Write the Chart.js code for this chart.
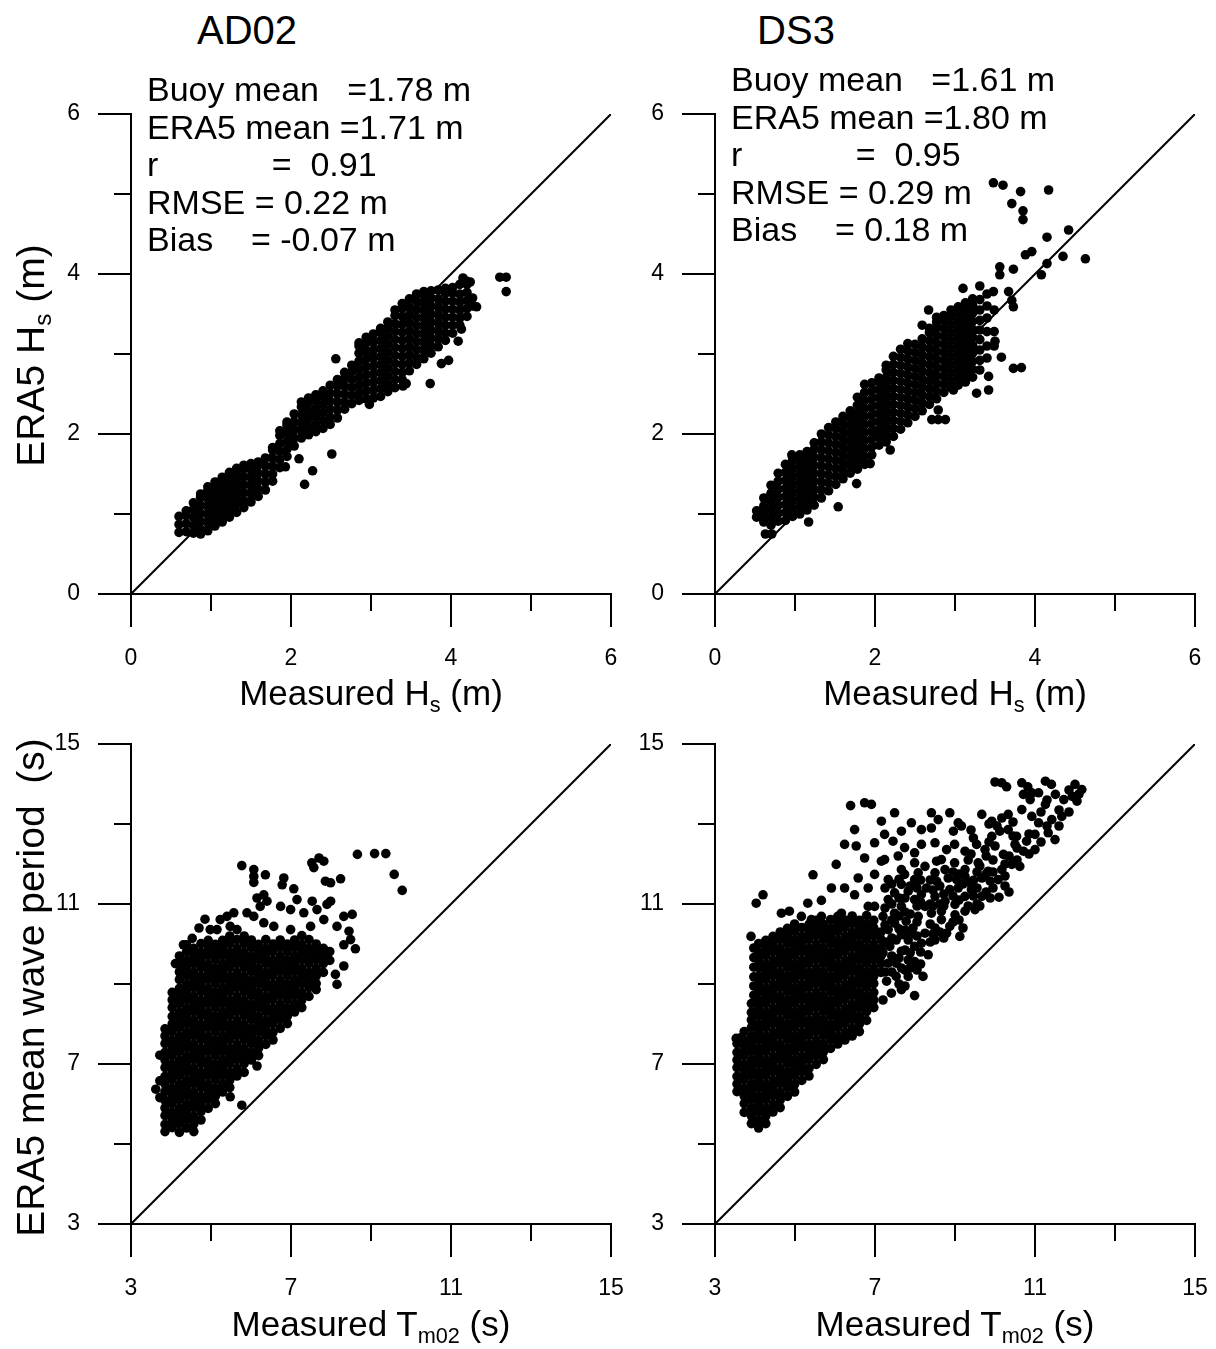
<!DOCTYPE html>
<html lang="en">
  <head>
    <meta charset="UTF-8" />
    <title>ERA5 vs buoy: AD02 / DS3</title>
    <script src="https://cdn.jsdelivr.net/npm/chart.js"></script>
    <style>
      body {
        margin: 0;
        width: 1216px;
        height: 1349px;
        position: relative;
        overflow: hidden;
        background: #fff;
        color: #000;
        font-family: "Liberation Sans", Arial, sans-serif;
      }
      canvas { position: absolute; }
      .txt { position: absolute; white-space: pre; line-height: 1; }
      .title { font-size: 40px; width: 200px; text-align: center; }
      .stats { font-size: 34px; line-height: 37.5px; }
      .xlab { font-size: 35px; width: 480px; text-align: center; }
      .ylab { font-size: 39px; width: 560px; height: 39px; text-align: center; transform: rotate(-90deg); }
      .sub { font-size: 0.62em; position: relative; top: 0.3em; }
    </style>
  </head>
  <body>
    <canvas id="ad02HsChart" width="640" height="600" style="left:0;top:90px"></canvas>
    <canvas id="ds3HsChart" width="616" height="600" style="left:600px;top:90px"></canvas>
    <canvas id="ad02TmChart" width="640" height="629" style="left:0;top:720px"></canvas>
    <canvas id="ds3TmChart" width="616" height="629" style="left:600px;top:720px"></canvas>

    <div class="txt title" style="left:147px;top:10px">AD02</div>
    <div class="txt title" style="left:696px;top:10px">DS3</div>

    <div class="txt stats" style="left:147px;top:71px">Buoy mean   =1.78 m<br>ERA5 mean =1.71 m<br>r            =  0.91<br>RMSE = 0.22 m<br>Bias    = -0.07 m</div>
    <div class="txt stats" style="left:731px;top:61px">Buoy mean   =1.61 m<br>ERA5 mean =1.80 m<br>r            =  0.95<br>RMSE = 0.29 m<br>Bias    = 0.18 m</div>

    <div class="txt xlab" style="left:131px;top:675px">Measured H<span class="sub">s</span> (m)</div>
    <div class="txt xlab" style="left:715px;top:675px">Measured H<span class="sub">s</span> (m)</div>
    <div class="txt xlab" style="left:131px;top:1306px">Measured T<span class="sub">m02</span> (s)</div>
    <div class="txt xlab" style="left:715px;top:1306px">Measured T<span class="sub">m02</span> (s)</div>

    <div class="txt ylab" style="left:-250px;top:336px">ERA5 H<span class="sub">s</span> (m)</div>
    <div class="txt ylab" style="left:-250px;top:968px">ERA5 mean wave period  (s)</div>

    <script>
      // axis ticks (minor ticks are unlabelled)
      const hsTicks = [0, 1, 2, 3, 4, 5, 6];
      const hsMajor = [0, 2, 4, 6];
      const tmTicks = [3, 5, 7, 9, 11, 13, 15];
      const tmMajor = [3, 7, 11, 15];

      // readings grouped by measured value: [measured, [ERA5 values...]]
      const ad02Hs = [
        [0.60, [0.77, 0.87, 0.97]],
        [0.69, [0.78, 0.88, 0.98, 1.04]],
        [0.78, [0.76, 0.86, 0.96, 1.06, 1.14]],
        [0.87, [0.75, 0.81, 0.91, 1.01, 1.11, 1.21, 1.25]],
        [0.96, [0.79, 0.89, 0.99, 1.09, 1.19, 1.29, 1.34]],
        [1.05, [0.85, 0.94, 1.04, 1.14, 1.24, 1.34, 1.40]],
        [1.14, [0.90, 1.00, 1.10, 1.20, 1.30, 1.40, 1.46]],
        [1.23, [0.96, 1.06, 1.16, 1.26, 1.36, 1.46, 1.52]],
        [1.32, [1.02, 1.12, 1.22, 1.32, 1.42, 1.52, 1.57]],
        [1.41, [1.08, 1.17, 1.27, 1.37, 1.47, 1.57, 1.61]],
        [1.50, [1.15, 1.25, 1.35, 1.45, 1.55, 1.63]],
        [1.59, [1.22, 1.31, 1.41, 1.51, 1.61, 1.65]],
        [1.68, [1.30, 1.40, 1.50, 1.60, 1.70]],
        [1.77, [1.41, 1.50, 1.60, 1.70, 1.80, 1.83]],
        [1.86, [1.58, 1.68, 1.78, 1.88, 1.98, 2.04]],
        [1.95, [1.72, 1.81, 1.91, 2.01, 2.11, 2.15]],
        [2.04, [1.85, 1.95, 2.05, 2.15, 2.25]],
        [2.13, [1.95, 2.04, 2.14, 2.24, 2.34, 2.40]],
        [2.22, [1.99, 2.09, 2.19, 2.29, 2.39, 2.45]],
        [2.31, [2.03, 2.12, 2.22, 2.32, 2.42, 2.49]],
        [2.40, [2.07, 2.17, 2.27, 2.37, 2.47, 2.54]],
        [2.49, [2.12, 2.21, 2.31, 2.41, 2.51, 2.61]],
        [2.58, [2.20, 2.30, 2.40, 2.50, 2.60, 2.68]],
        [2.67, [2.31, 2.40, 2.50, 2.60, 2.70, 2.77]],
        [2.76, [2.38, 2.48, 2.58, 2.68, 2.78, 2.86]],
        [2.85, [2.42, 2.51, 2.61, 2.71, 2.81, 2.91, 3.01, 3.10, 3.14]],
        [2.94, [2.44, 2.54, 2.64, 2.74, 2.84, 2.94, 3.04, 3.14, 3.21]],
        [3.03, [2.45, 2.55, 2.65, 2.75, 2.85, 2.95, 3.05, 3.15, 3.25]],
        [3.12, [2.47, 2.57, 2.67, 2.77, 2.87, 2.97, 3.07, 3.17, 3.27, 3.32]],
        [3.21, [2.53, 2.62, 2.72, 2.82, 2.92, 3.02, 3.12, 3.22, 3.32, 3.40]],
        [3.30, [2.58, 2.68, 2.78, 2.88, 2.98, 3.08, 3.18, 3.28, 3.38, 3.48, 3.55]],
        [3.39, [2.68, 2.77, 2.87, 2.97, 3.07, 3.17, 3.27, 3.37, 3.47, 3.57, 3.63]],
        [3.48, [2.79, 2.89, 2.99, 3.09, 3.19, 3.29, 3.39, 3.49, 3.59, 3.69]],
        [3.57, [2.87, 2.96, 3.06, 3.16, 3.26, 3.36, 3.46, 3.56, 3.66, 3.75]],
        [3.66, [2.94, 3.04, 3.14, 3.24, 3.34, 3.44, 3.54, 3.64, 3.74, 3.78]],
        [3.75, [3.01, 3.10, 3.20, 3.30, 3.40, 3.50, 3.60, 3.70, 3.79]],
        [3.84, [3.09, 3.19, 3.29, 3.39, 3.49, 3.59, 3.69, 3.80]],
        [3.93, [3.17, 3.26, 3.36, 3.46, 3.56, 3.66, 3.76, 3.82]],
        [4.02, [3.26, 3.36, 3.46, 3.56, 3.66, 3.76, 3.83]],
        [4.11, [3.36, 3.45, 3.55, 3.65, 3.75, 3.87]],
        [4.20, [3.47, 3.57, 3.67, 3.77, 3.87, 3.91]],
        [4.27, [3.60, 3.70]],
        [1.93, [1.59]], [2.10, [1.69]], [2.27, [1.54]], [2.17, [1.37]], [2.51, [1.75]],
        [2.56, [2.94]], [2.98, [2.37]], [3.40, [2.60]], [3.44, [2.63]], [3.74, [2.63]],
        [3.88, [2.88]], [3.97, [2.92]], [4.09, [3.16]], [4.13, [3.31]], [4.32, [3.59]],
        [4.15, [3.95]], [4.24, [3.90]], [4.61, [3.96]], [4.69, [3.96, 3.78]]
      ];

      const ds3Hs = [
        [0.52, [0.96, 1.04]],
        [0.61, [0.90, 1.00, 1.10, 1.20]],
        [0.70, [0.86, 0.96, 1.06, 1.16, 1.26, 1.36]],
        [0.79, [0.91, 1.01, 1.11, 1.21, 1.31, 1.41, 1.51]],
        [0.88, [0.92, 1.02, 1.12, 1.22, 1.32, 1.42, 1.52, 1.62]],
        [0.97, [0.97, 1.07, 1.17, 1.27, 1.37, 1.47, 1.57, 1.67, 1.71]],
        [1.06, [1.00, 1.10, 1.20, 1.30, 1.40, 1.50, 1.60, 1.70, 1.74]],
        [1.15, [1.05, 1.15, 1.25, 1.35, 1.45, 1.55, 1.65, 1.75, 1.78]],
        [1.24, [1.11, 1.21, 1.31, 1.41, 1.51, 1.61, 1.71, 1.81, 1.89]],
        [1.33, [1.20, 1.30, 1.40, 1.50, 1.60, 1.70, 1.80, 1.90, 2.00]],
        [1.42, [1.29, 1.39, 1.49, 1.59, 1.69, 1.79, 1.89, 1.99, 2.08]],
        [1.51, [1.37, 1.47, 1.57, 1.67, 1.77, 1.87, 1.97, 2.07, 2.15]],
        [1.60, [1.44, 1.54, 1.64, 1.74, 1.84, 1.94, 2.04, 2.14, 2.22]],
        [1.69, [1.51, 1.61, 1.71, 1.81, 1.91, 2.01, 2.11, 2.21, 2.29]],
        [1.78, [1.56, 1.66, 1.76, 1.86, 1.96, 2.06, 2.16, 2.26, 2.36, 2.46]],
        [1.87, [1.62, 1.72, 1.82, 1.92, 2.02, 2.12, 2.22, 2.32, 2.42, 2.52, 2.62]],
        [1.96, [1.74, 1.84, 1.94, 2.04, 2.14, 2.24, 2.34, 2.44, 2.54, 2.64]],
        [2.05, [1.86, 1.96, 2.06, 2.16, 2.26, 2.36, 2.46, 2.56, 2.66, 2.70]],
        [2.14, [1.90, 2.00, 2.10, 2.20, 2.30, 2.40, 2.50, 2.60, 2.70, 2.80, 2.86]],
        [2.23, [1.97, 2.07, 2.17, 2.27, 2.37, 2.47, 2.57, 2.67, 2.77, 2.87, 2.97]],
        [2.32, [2.06, 2.16, 2.26, 2.36, 2.46, 2.56, 2.66, 2.76, 2.86, 2.96, 3.06]],
        [2.41, [2.14, 2.24, 2.34, 2.44, 2.54, 2.64, 2.74, 2.84, 2.94, 3.04, 3.13]],
        [2.50, [2.22, 2.32, 2.42, 2.52, 2.62, 2.72, 2.82, 2.92, 3.02, 3.12]],
        [2.59, [2.29, 2.39, 2.49, 2.59, 2.69, 2.79, 2.89, 2.99, 3.09, 3.19]],
        [2.68, [2.37, 2.47, 2.57, 2.67, 2.77, 2.87, 2.97, 3.07, 3.17, 3.27, 3.32]],
        [2.77, [2.44, 2.54, 2.64, 2.74, 2.84, 2.94, 3.04, 3.14, 3.24, 3.34, 3.40]],
        [2.86, [2.52, 2.62, 2.72, 2.82, 2.92, 3.02, 3.12, 3.22, 3.32, 3.42, 3.48]],
        [2.95, [2.58, 2.67, 2.77, 2.87, 2.97, 3.07, 3.17, 3.27, 3.37, 3.47, 3.55]],
        [3.04, [2.61, 2.71, 2.81, 2.91, 3.01, 3.11, 3.21, 3.31, 3.41, 3.51, 3.59]],
        [3.13, [2.65, 2.75, 2.85, 2.95, 3.05, 3.15, 3.25, 3.35, 3.45, 3.55, 3.64]],
        [3.22, [2.71, 2.81, 2.91, 3.01, 3.11, 3.21, 3.31, 3.41, 3.51, 3.61, 3.69]],
        [3.31, [2.80, 2.92, 3.05, 3.18, 3.30, 3.42, 3.55, 3.68]],
        [3.40, [2.95, 3.10, 3.28, 3.45, 3.60, 3.75]],
        [3.49, [3.10, 3.28, 3.55]],
        [0.63, [0.75]], [0.71, [0.75]], [0.96, [1.74]], [1.17, [0.90]], [1.54, [1.09]],
        [1.77, [1.38]], [1.94, [1.63]], [2.19, [1.80]], [2.71, [2.18]], [2.79, [2.18, 2.30]],
        [2.88, [2.18]], [2.98, [2.55]], [3.27, [2.51]], [3.42, [2.55, 2.72]], [3.58, [2.96]],
        [3.73, [2.82, 3.59, 4.06]], [3.83, [2.83]], [3.50, [3.16]], [3.48, [3.78, 5.14]],
        [3.67, [3.78]], [3.71, [3.67, 4.88]], [3.10, [3.82]], [3.31, [3.85]], [2.67, [3.55]],
        [2.77, [3.46]], [2.59, [3.36]], [3.56, [3.99, 4.09]], [3.88, [4.24]], [3.96, [4.28]],
        [4.08, [3.99]], [4.15, [4.13, 4.46]], [4.35, [4.22]], [4.63, [4.19]], [4.42, [4.55]],
        [3.85, [4.68, 4.79]], [3.60, [5.11]], [3.82, [5.03]], [4.17, [5.05]]
      ];

      const ad02Tm = [
        [3.62, [6.37]],
        [3.72, [6.16, 6.58, 7.22]],
        [3.85, [5.31, 5.49, 5.71, 5.90, 6.09, 6.31, 6.50, 6.69, 6.91, 7.10, 7.29, 7.51, 7.70, 7.88]],
        [4.03, [5.41, 5.60, 5.79, 6.01, 6.20, 6.39, 6.61, 6.80, 6.99, 7.21, 7.40, 7.59, 7.81, 8.00, 8.19, 8.41, 8.60, 8.79]],
        [4.21, [5.29, 5.51, 5.70, 5.89, 6.11, 6.30, 6.49, 6.71, 6.90, 7.09, 7.31, 7.50, 7.69, 7.91, 8.10, 8.29, 8.51, 8.70, 8.89, 9.11, 9.30, 9.49, 9.70]],
        [4.39, [5.40, 5.61, 5.80, 5.99, 6.21, 6.40, 6.59, 6.81, 7.00, 7.19, 7.41, 7.60, 7.79, 8.01, 8.20, 8.39, 8.61, 8.80, 8.99, 9.21, 9.40, 9.59, 9.81, 9.98]],
        [4.57, [5.31, 5.50, 5.69, 5.91, 6.10, 6.29, 6.51, 6.70, 6.89, 7.11, 7.30, 7.49, 7.71, 7.90, 8.09, 8.31, 8.50, 8.69, 8.91, 9.10, 9.29, 9.51, 9.70, 9.89]],
        [4.75, [5.60, 5.81, 6.00, 6.19, 6.41, 6.60, 6.79, 7.01, 7.20, 7.39, 7.61, 7.80, 7.99, 8.21, 8.40, 8.59, 8.81, 9.00, 9.19, 9.41, 9.60, 9.79, 10.01]],
        [4.93, [5.89, 6.11, 6.30, 6.49, 6.71, 6.90, 7.09, 7.31, 7.50, 7.69, 7.91, 8.10, 8.29, 8.51, 8.70, 8.89, 9.11, 9.30, 9.49, 9.71, 9.90, 10.09]],
        [5.11, [6.01, 6.20, 6.39, 6.61, 6.80, 6.99, 7.21, 7.40, 7.59, 7.81, 8.00, 8.19, 8.41, 8.60, 8.79, 9.01, 9.20, 9.39, 9.61, 9.80, 9.99]],
        [5.29, [6.30, 6.49, 6.71, 6.90, 7.09, 7.31, 7.50, 7.69, 7.91, 8.10, 8.29, 8.51, 8.70, 8.89, 9.11, 9.30, 9.49, 9.71, 9.90, 10.09]],
        [5.47, [6.41, 6.60, 6.79, 7.01, 7.20, 7.39, 7.61, 7.80, 7.99, 8.21, 8.40, 8.59, 8.81, 9.00, 9.19, 9.41, 9.60, 9.79, 10.01, 10.20]],
        [5.65, [6.70, 6.89, 7.11, 7.30, 7.49, 7.71, 7.90, 8.09, 8.31, 8.50, 8.69, 8.91, 9.10, 9.29, 9.51, 9.70, 9.89, 10.11]],
        [5.83, [6.79, 7.01, 7.20, 7.39, 7.61, 7.80, 7.99, 8.21, 8.40, 8.59, 8.81, 9.00, 9.19, 9.41, 9.60, 9.79, 10.01, 10.20]],
        [6.01, [7.10, 7.29, 7.51, 7.70, 7.89, 8.11, 8.30, 8.49, 8.71, 8.90, 9.09, 9.31, 9.50, 9.69, 9.91, 10.10]],
        [6.19, [7.21, 7.40, 7.59, 7.81, 8.00, 8.19, 8.41, 8.60, 8.79, 9.01, 9.20, 9.39, 9.61, 9.80, 9.99]],
        [6.37, [7.49, 7.71, 7.90, 8.09, 8.31, 8.50, 8.69, 8.91, 9.10, 9.29, 9.51, 9.70, 9.89, 10.11]],
        [6.55, [7.60, 7.79, 8.01, 8.20, 8.39, 8.61, 8.80, 8.99, 9.21, 9.40, 9.59, 9.81, 10.00]],
        [6.73, [7.89, 8.11, 8.30, 8.49, 8.71, 8.90, 9.09, 9.31, 9.50, 9.69, 9.91, 10.10]],
        [6.91, [8.01, 8.20, 8.39, 8.61, 8.80, 8.99, 9.21, 9.40, 9.59, 9.81, 10.00]],
        [7.09, [8.30, 8.49, 8.71, 8.90, 9.09, 9.31, 9.50, 9.69, 9.91, 10.10]],
        [7.27, [8.41, 8.60, 8.79, 9.01, 9.20, 9.39, 9.61, 9.80, 9.99, 10.21]],
        [7.45, [8.69, 8.91, 9.10, 9.29, 9.51, 9.70, 9.89, 10.11]],
        [7.63, [8.86, 9.01, 9.20, 9.39, 9.61, 9.80, 10.00]],
        [7.81, [9.29, 9.51, 9.70, 9.89]],
        [7.97, [9.59, 9.81]],
        [5.48, [6.18]], [5.77, [5.97]], [6.15, [6.95]], [8.15, [8.99]], [8.11, [9.24]],
        [8.32, [9.45, 9.98]], [8.61, [9.88]], [8.49, [10.11]], [4.31, [9.98]], [4.53, [10.14]],
        [4.11, [9.51]], [4.70, [10.40]], [4.85, [10.62]],
        [5.77, [11.96]], [6.07, [11.86, 11.69, 11.54, 10.69]], [6.36, [11.73]], [6.82, [11.65]],
        [6.78, [11.48]], [7.07, [11.38]], [7.52, [12.03]], [7.57, [11.91]], [7.70, [12.15]],
        [7.82, [12.07, 10.61]], [7.86, [11.57]], [7.99, [11.53, 11.07]], [8.24, [11.63]],
        [8.66, [12.24]], [9.09, [12.26]], [9.37, [12.26]], [9.58, [11.74]], [9.78, [11.34]],
        [6.32, [11.23, 10.53]], [6.15, [11.15]], [6.40, [11.07]], [6.23, [10.94]], [6.74, [10.94]],
        [6.99, [10.86, 10.36]], [7.15, [11.11]], [7.32, [10.78]], [7.53, [11.07]], [7.65, [10.86]],
        [7.90, [10.99]], [5.90, [10.78]], [5.57, [10.78]], [5.40, [10.69]], [5.23, [10.61]],
        [5.48, [10.44]], [5.65, [10.36]], [5.15, [10.36]], [4.98, [10.36]], [8.53, [10.74]],
        [8.32, [10.69]], [8.15, [10.44]], [8.45, [10.32]], [6.57, [10.44]], [7.49, [10.44]]
      ];

      const ds3Tm = [
        [3.53, [7.64]],
        [3.55, [6.31, 6.50, 6.69, 6.91, 7.10, 7.29, 7.51]],
        [3.65, [7.66]],
        [3.73, [5.79, 6.01, 6.20, 6.39, 6.61, 6.80, 6.99, 7.21, 7.40, 7.59, 7.81]],
        [3.91, [5.51, 5.70, 5.89, 6.11, 6.30, 6.49, 6.71, 6.90, 7.09, 7.31, 7.50, 7.69, 7.91, 8.10, 8.29, 8.51]],
        [3.97, [8.72, 8.95, 9.18, 9.42, 9.66, 9.90]],
        [4.09, [5.40, 5.59, 5.81, 6.00, 6.19, 6.41, 6.60, 6.79, 7.01, 7.20, 7.39, 7.61, 7.80, 7.99, 8.21, 8.40, 8.59, 8.81, 9.00, 9.19, 9.41, 9.60, 9.79, 10.01]],
        [4.27, [5.51, 5.70, 5.89, 6.11, 6.30, 6.49, 6.71, 6.90, 7.09, 7.31, 7.50, 7.69, 7.91, 8.10, 8.29, 8.51, 8.70, 8.89, 9.11, 9.30, 9.49, 9.71, 9.90, 10.09]],
        [4.45, [5.80, 5.99, 6.21, 6.40, 6.59, 6.81, 7.00, 7.19, 7.41, 7.60, 7.79, 8.01, 8.20, 8.39, 8.61, 8.80, 8.99, 9.21, 9.40, 9.59, 9.81, 10.00, 10.19]],
        [4.63, [5.91, 6.10, 6.29, 6.51, 6.70, 6.89, 7.11, 7.30, 7.49, 7.71, 7.90, 8.09, 8.31, 8.50, 8.69, 8.91, 9.10, 9.29, 9.51, 9.70, 9.89, 10.11, 10.30]],
        [4.81, [6.19, 6.41, 6.60, 6.79, 7.01, 7.20, 7.39, 7.61, 7.80, 7.99, 8.21, 8.40, 8.59, 8.81, 9.00, 9.19, 9.41, 9.60, 9.79, 10.01, 10.20, 10.39]],
        [4.99, [6.30, 6.49, 6.71, 6.90, 7.09, 7.31, 7.50, 7.69, 7.91, 8.10, 8.29, 8.51, 8.70, 8.89, 9.11, 9.30, 9.49, 9.71, 9.90, 10.09, 10.31, 10.50]],
        [5.17, [6.59, 6.81, 7.00, 7.19, 7.41, 7.60, 7.79, 8.01, 8.20, 8.39, 8.61, 8.80, 8.99, 9.21, 9.40, 9.59, 9.81, 10.00, 10.19, 10.41]],
        [5.35, [6.70, 6.89, 7.11, 7.30, 7.49, 7.71, 7.90, 8.09, 8.31, 8.50, 8.69, 8.91, 9.10, 9.29, 9.51, 9.70, 9.89, 10.11, 10.30, 10.49]],
        [5.53, [6.99, 7.21, 7.40, 7.59, 7.81, 8.00, 8.19, 8.41, 8.60, 8.79, 9.01, 9.20, 9.39, 9.61, 9.80, 9.99, 10.21, 10.40, 10.59]],
        [5.71, [7.11, 7.30, 7.49, 7.71, 7.90, 8.09, 8.31, 8.50, 8.69, 8.91, 9.10, 9.29, 9.51, 9.70, 9.89, 10.11, 10.30, 10.49]],
        [5.89, [7.39, 7.61, 7.80, 7.99, 8.21, 8.40, 8.59, 8.81, 9.00, 9.19, 9.41, 9.60, 9.79, 10.01, 10.20, 10.39, 10.61]],
        [6.07, [7.50, 7.69, 7.91, 8.10, 8.29, 8.51, 8.70, 8.89, 9.11, 9.30, 9.49, 9.71, 9.90, 10.09, 10.31, 10.50, 10.69]],
        [6.25, [7.60, 7.79, 8.01, 8.20, 8.39, 8.61, 8.80, 8.99, 9.21, 9.40, 9.59, 9.81, 10.00, 10.19, 10.41, 10.60]],
        [6.43, [7.70, 7.89, 8.11, 8.30, 8.49, 8.71, 8.90, 9.09, 9.31, 9.50, 9.69, 9.91, 10.10, 10.29, 10.51, 10.70]],
        [6.61, [7.81, 8.00, 8.19, 8.41, 8.60, 8.79, 9.01, 9.20, 9.39, 9.61, 9.80, 9.99, 10.21, 10.40, 10.59]],
        [6.79, [8.09, 8.31, 8.50, 8.69, 8.91, 9.10, 9.29, 9.51, 9.70, 9.89, 10.11, 10.30, 10.49, 10.71]],
        [6.97, [8.41, 8.60, 8.79, 9.01, 9.20, 9.39, 9.61, 9.80, 9.99, 10.21, 10.40, 10.59]],
        [7.15, [9.29, 9.51, 9.70, 9.89, 10.11, 10.30]],
        [10.00, [14.05, 12.45]], [10.17, [14.03, 13.15, 11.86]], [10.29, [13.93]], [10.67, [14.03, 13.36]],
        [10.82, [13.93]], [10.92, [13.78, 13.19]], [11.26, [14.07, 13.49]], [11.41, [13.99]],
        [12.00, [13.99]], [12.17, [13.86]], [10.71, [13.74, 12.32]], [10.88, [13.61]],
        [11.09, [13.78, 13.03]], [11.51, [13.74]], [11.72, [13.61]], [11.93, [13.69]], [12.05, [13.57]],
        [8.41, [13.28, 12.90, 10.77]], [8.87, [13.28, 10.44]], [7.49, [13.28, 11.28, 10.77, 10.52]],
        [9.67, [13.24, 11.65, 11.19]], [9.92, [13.07, 12.69]], [10.33, [13.24, 12.86]],
        [11.42, [13.11]], [11.67, [13.19]], [8.58, [13.11]], [9.08, [13.03, 11.40]],
        [7.91, [13.03]], [8.16, [12.86, 12.49, 11.24, 10.02]], [8.96, [12.82]], [9.16, [12.95]],
        [9.46, [12.65, 11.59, 11.20]], [10.12, [12.82]], [10.54, [12.69]], [10.79, [12.57]],
        [11.00, [12.74, 12.36]], [11.33, [12.78]], [11.50, [12.61]], [7.45, [12.57]],
        [7.74, [12.41, 11.74]], [8.50, [12.53, 11.19, 10.40, 10.10, 11.78]], [8.79, [12.36, 10.27]],
        [8.99, [12.49, 12.03]], [9.25, [12.32, 11.86, 11.69, 11.19, 10.82]], [9.54, [12.49]],
        [9.75, [12.36]], [10.21, [12.24]], [10.50, [12.49]], [6.74, [12.15, 13.53]],
        [7.24, [12.11, 12.74]], [7.66, [11.86, 11.49, 10.94, 10.23, 9.82, 9.40, 8.86, 12.82]],
        [7.99, [12.03, 11.61, 11.11, 9.94, 9.56, 8.71, 12.28]], [8.25, [11.94, 10.94, 10.27]],
        [8.54, [12.07, 11.57]], [8.75, [11.86, 11.07]], [9.58, [12.03]], [9.83, [11.82]],
        [10.42, [11.99]], [10.62, [11.94]], [7.33, [11.61, 11.11, 10.36, 9.52]],
        [8.29, [11.40]], [8.83, [11.65]], [9.04, [11.61]], [9.88, [11.57, 11.15]], [10.08, [11.61]],
        [9.41, [11.36]], [10.10, [11.17]], [6.99, [10.94, 11.74, 12.53]], [9.00, [10.99, 10.73]],
        [7.20, [10.69, 9.78, 8.60]], [7.78, [10.57]], [8.08, [10.69, 11.78]], [8.66, [10.61, 10.82, 12.11]],
        [9.50, [10.86]], [7.95, [10.40]], [9.12, [10.19]], [7.37, [9.94]], [8.33, [9.73]],
        [8.20, [9.19]], [7.83, [9.19, 11.32, 10.10, 9.60]], [7.29, [9.07]], [7.41, [8.77]],
        [7.53, [10.10, 9.52, 9.19]], [8.87, [11.36]], [7.58, [12.20]],
        [7.25, [9.30, 10.05, 10.48, 10.90, 11.40]], [7.42, [9.30, 9.70, 10.15, 10.60, 11.00, 11.50]],
        [7.60, [9.00, 9.65, 10.38, 10.70, 11.15, 11.62]], [7.75, [8.95, 9.35, 9.85, 10.35, 10.80, 11.15]],
        [7.88, [9.40, 9.78, 10.25, 10.75, 11.45]], [8.05, [9.35, 10.20, 10.55, 10.95, 11.40]],
        [8.14, [9.50, 9.80, 11.05, 11.60]], [8.38, [10.05, 10.50, 11.00, 11.60]],
        [8.45, [10.25, 10.95, 11.35]], [8.62, [10.30, 11.00, 11.45]], [8.72, [10.15, 10.95, 11.25]],
        [8.95, [10.55, 11.20, 11.80]], [9.10, [10.60, 11.10, 11.75]], [9.20, [10.40, 11.50]],
        [9.33, [10.95, 11.55, 12.10]], [9.55, [11.00, 11.40, 11.80]], [9.62, [10.95, 11.95]],
        [9.78, [11.30, 11.75, 12.20]], [9.95, [11.40, 11.80, 12.10]], [10.25, [11.45, 11.70, 12.00]],
        [10.35, [11.30, 12.20]], [10.55, [12.10, 12.40]], [10.85, [12.25, 12.75]],
        [11.15, [12.55, 13.30]], [11.30, [12.95, 13.60]], [11.60, [12.95, 13.35]],
        [11.85, [13.30, 13.85]], [12.10, [13.75]], [9.40, [12.25, 12.85]], [9.85, [12.55, 13.00]],
        [10.45, [12.70, 13.05]], [10.05, [12.95]],
        [4.03, [11.02]], [4.20, [11.23]], [3.90, [10.19]], [4.86, [10.82]], [5.16, [10.69]],
        [5.32, [11.02]], [5.45, [11.73]], [5.66, [11.09, 10.69]], [5.91, [11.40]], [6.03, [11.99]],
        [6.24, [12.49, 11.40]], [6.53, [12.45]], [6.49, [12.86, 11.23]], [6.39, [13.46]],
        [6.91, [13.49]], [6.58, [11.65]], [6.83, [11.40, 10.94]], [7.16, [12.07, 13.07]],
        [6.16, [10.77]], [4.66, [10.77]], [5.41, [10.61]]
      ];

      function toPoints(cols) {
        const pts = [];
        cols.forEach(([x, ys]) => ys.forEach((y) => pts.push({ x: x, y: y })));
        return pts;
      }

      // long major / short minor tick marks outside the axes
      const tickMarks = {
        id: "tickMarks",
        afterDraw(chart, args, opts) {
          const { ctx } = chart;
          const xs = chart.scales.x;
          const ys = chart.scales.y;
          ctx.save();
          ctx.strokeStyle = "#000";
          ctx.lineWidth = 2;
          ctx.beginPath();
          opts.ticks.forEach((v) => {
            const len = opts.major.includes(v) ? 33 : 17;
            const px = Math.round(xs.getPixelForValue(v));
            ctx.moveTo(px, xs.top);
            ctx.lineTo(px, xs.top + len);
            const py = Math.round(ys.getPixelForValue(v));
            ctx.moveTo(ys.right, py);
            ctx.lineTo(ys.right - len, py);
          });
          ctx.stroke();
          ctx.restore();
        },
      };

      function makeChart(id, cols, ticks, major, yWidth, xHeight, padRight) {
        const lo = ticks[0];
        const hi = ticks[ticks.length - 1];
        const tickFont = { family: "'Liberation Sans', Arial, sans-serif", size: 23 };
        const axis = (fit) => ({
          type: "linear",
          min: lo,
          max: hi,
          afterBuildTicks: (s) => {
            s.ticks = ticks.map((v) => ({ value: v }));
          },
          afterFit: fit,
          // tickLength only pushes the labels out; the marks come from tickMarks
          grid: { display: false, drawTicks: true, tickLength: 45 },
          border: { display: true, color: "#000", width: 2 },
          ticks: {
            padding: 6,
            color: "#000",
            font: tickFont,
            autoSkip: false,
            maxRotation: 0,
            callback: (v) => (major.includes(v) ? String(v) : ""),
          },
        });
        return new Chart(document.getElementById(id), {
          type: "scatter",
          data: {
            datasets: [
              {
                data: toPoints(cols),
                pointRadius: 4.8,
                pointHoverRadius: 4.8,
                backgroundColor: "#000",
                pointBorderWidth: 0,
                order: 1,
              },
              {
                type: "line",
                data: [{ x: lo, y: lo }, { x: hi, y: hi }],
                borderColor: "#000",
                borderWidth: 2,
                pointRadius: 0,
                fill: false,
                order: 2,
              },
            ],
          },
          options: {
            responsive: false,
            animation: false,
            devicePixelRatio: 1,
            events: [],
            layout: { autoPadding: false, padding: { top: 24, right: padRight, left: 0, bottom: 0 } },
            plugins: {
              legend: { display: false },
              tooltip: { enabled: false },
              tickMarks: { ticks: ticks, major: major },
            },
            scales: {
              x: axis((s) => { s.height = xHeight; }),
              y: axis((s) => { s.width = yWidth; }),
            },
          },
          plugins: [tickMarks],
        });
      }

      makeChart("ad02HsChart", ad02Hs, hsTicks, hsMajor, 131, 96, 29);
      makeChart("ds3HsChart", ds3Hs, hsTicks, hsMajor, 115, 96, 21);
      makeChart("ad02TmChart", ad02Tm, tmTicks, tmMajor, 131, 125, 29);
      makeChart("ds3TmChart", ds3Tm, tmTicks, tmMajor, 115, 125, 21);
    </script>
  </body>
</html>
